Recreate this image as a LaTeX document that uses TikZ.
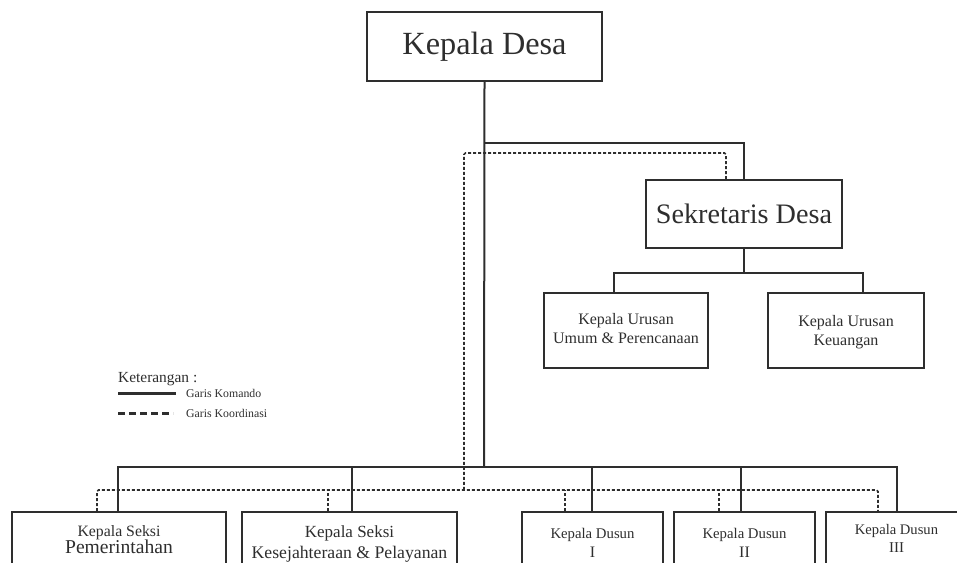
\documentclass[tikz,border=0pt]{standalone}
\usepackage{fontspec}
\setmainfont{Liberation Serif}
\definecolor{ink}{HTML}{2E2E2E}
\tikzset{
  unitbox/.style={draw=ink, line width=2pt, text=ink, align=center, inner xsep=0pt},
  lowbox/.style={unitbox, anchor=north, text depth=30pt},
  cmdline/.style={draw=ink, line width=2pt},
  coordline/.style={draw=ink, line width=1.7pt, dash pattern=on 3pt off 2pt, rounded corners=1.5pt},
  legtext/.style={anchor=base west, text=ink, inner sep=0pt},
}
\begin{document}
\begin{tikzpicture}[x=1pt,y=-1pt]
\useasboundingbox (0,0) rectangle (957,562);
\clip (0,0) rectangle (957,562);

% upper level
\node[unitbox, inner ysep=0pt, minimum width=235pt, minimum height=69pt,
      font=\fontsize{32.3}{36}\selectfont] (kades) at (484.5,46.5) {Kepala Desa};
\node[unitbox, inner ysep=0pt, minimum width=196pt, minimum height=68pt,
      font=\fontsize{28.2}{32}\selectfont] (sekdes) at (744,214) {Sekretaris Desa};
\node[unitbox, inner ysep=0pt, minimum width=164pt, minimum height=75pt, text depth=4pt,
      font=\fontsize{16}{19.5}\selectfont] (kaur1) at (626,330.5) {Kepala Urusan\\Umum \& Perencanaan};
\node[unitbox, inner ysep=0pt, minimum width=156pt, minimum height=75pt, text depth=-4pt,
      font=\fontsize{16}{19.5}\selectfont] (kaur2) at (846,330.5) {Kepala Urusan\\Keuangan};

% lower level (boxes run past the lower edge)
\node[lowbox, minimum width=214pt, inner ysep=13.2pt, font=\fontsize{15.8}{17}\selectfont] (kasi1) at (119,511)
  {Kepala Seksi\\\fontsize{19.6}{17}\selectfont Pemerintahan};
\node[lowbox, minimum width=215pt, inner ysep=13.9pt, font=\fontsize{17}{21}\selectfont] (kasi2) at (349.5,511)
  {Kepala Seksi\\\fontsize{17.7}{21}\selectfont Kesejahteraan \& Pelayanan};
\node[lowbox, minimum width=141pt, inner ysep=15.9pt, font=\fontsize{14.75}{19.5}\selectfont] (kadus1) at (592.5,511)
  {Kepala Dusun\\\fontsize{16}{19.5}\selectfont I};
\node[lowbox, minimum width=141pt, inner ysep=15.9pt, font=\fontsize{14.75}{19.5}\selectfont] (kadus2) at (744.5,511)
  {Kepala Dusun\\\fontsize{16}{19.5}\selectfont II};
\node[lowbox, minimum width=141pt, inner ysep=12.4pt, font=\fontsize{14.6}{18}\selectfont] (kadus3) at (896.5,511)
  {Kepala Dusun\\\fontsize{15}{18}\selectfont III};

% command lines
\coordinate (cmdtop) at (484,143);
\coordinate (cmdbus) at (484,467);
\coordinate (urbus) at (744,273);
\draw[cmdline] (kades.south) -- (cmdbus);
\draw[cmdline] (cmdtop) -| (sekdes.north);
\draw[cmdline] (sekdes.south) -- (urbus);
\draw[cmdline] ([xshift=-12pt]kaur1.north) |- (urbus) -| ([xshift=17pt]kaur2.north);
\draw[cmdline] ([xshift=-1pt]kasi1.north) |- ([xshift=0.5pt]kadus3.north |- cmdbus) -- ([xshift=0.5pt]kadus3.north);
\draw[cmdline] ([xshift=2.5pt]kasi2.north) -- ([xshift=2.5pt]kasi2.north |- cmdbus);
\draw[cmdline] ([xshift=-0.5pt]kadus1.north) -- ([xshift=-0.5pt]kadus1.north |- cmdbus);
\draw[cmdline] ([xshift=-3.5pt]kadus2.north) -- ([xshift=-3.5pt]kadus2.north |- cmdbus);

% coordination lines
\coordinate (coordtop) at (464,153);
\coordinate (coordbus) at (464,490);
\draw[coordline] ([xshift=-18pt]sekdes.north) |- (coordtop) -- (coordbus);
\draw[coordline] ([xshift=-22pt]kasi1.north) |- ([xshift=-18.5pt]kadus3.north |- coordbus) -- ([xshift=-18.5pt]kadus3.north);
\draw[coordline] ([xshift=-21.5pt]kasi2.north) -- ([xshift=-21.5pt]kasi2.north |- coordbus);
\draw[coordline] ([xshift=-27.5pt]kadus1.north) -- ([xshift=-27.5pt]kadus1.north |- coordbus);
\draw[coordline] ([xshift=-25.5pt]kadus2.north) -- ([xshift=-25.5pt]kadus2.north |- coordbus);

% legend
\node[legtext, font=\fontsize{15.4}{18}\selectfont] (legtitle) at (118,382) {Keterangan :};
\node[legtext, font=\fontsize{11.8}{14}\selectfont] (legcmd) at (186,397) {Garis Komando};
\node[legtext, font=\fontsize{11.8}{14}\selectfont] (legcoord) at (186,417) {Garis Koordinasi};
\coordinate (lcmdA) at (118,393);
\coordinate (lcmdB) at (176,393);
\coordinate (lcoA) at (118,413);
\coordinate (lcoB) at (173,413);
\draw[ink, line width=3pt] (lcmdA) -- (lcmdB);
\draw[ink, line width=3pt, dash pattern=on 7pt off 4pt] (lcoA) -- (lcoB);
\end{tikzpicture}
\end{document}
